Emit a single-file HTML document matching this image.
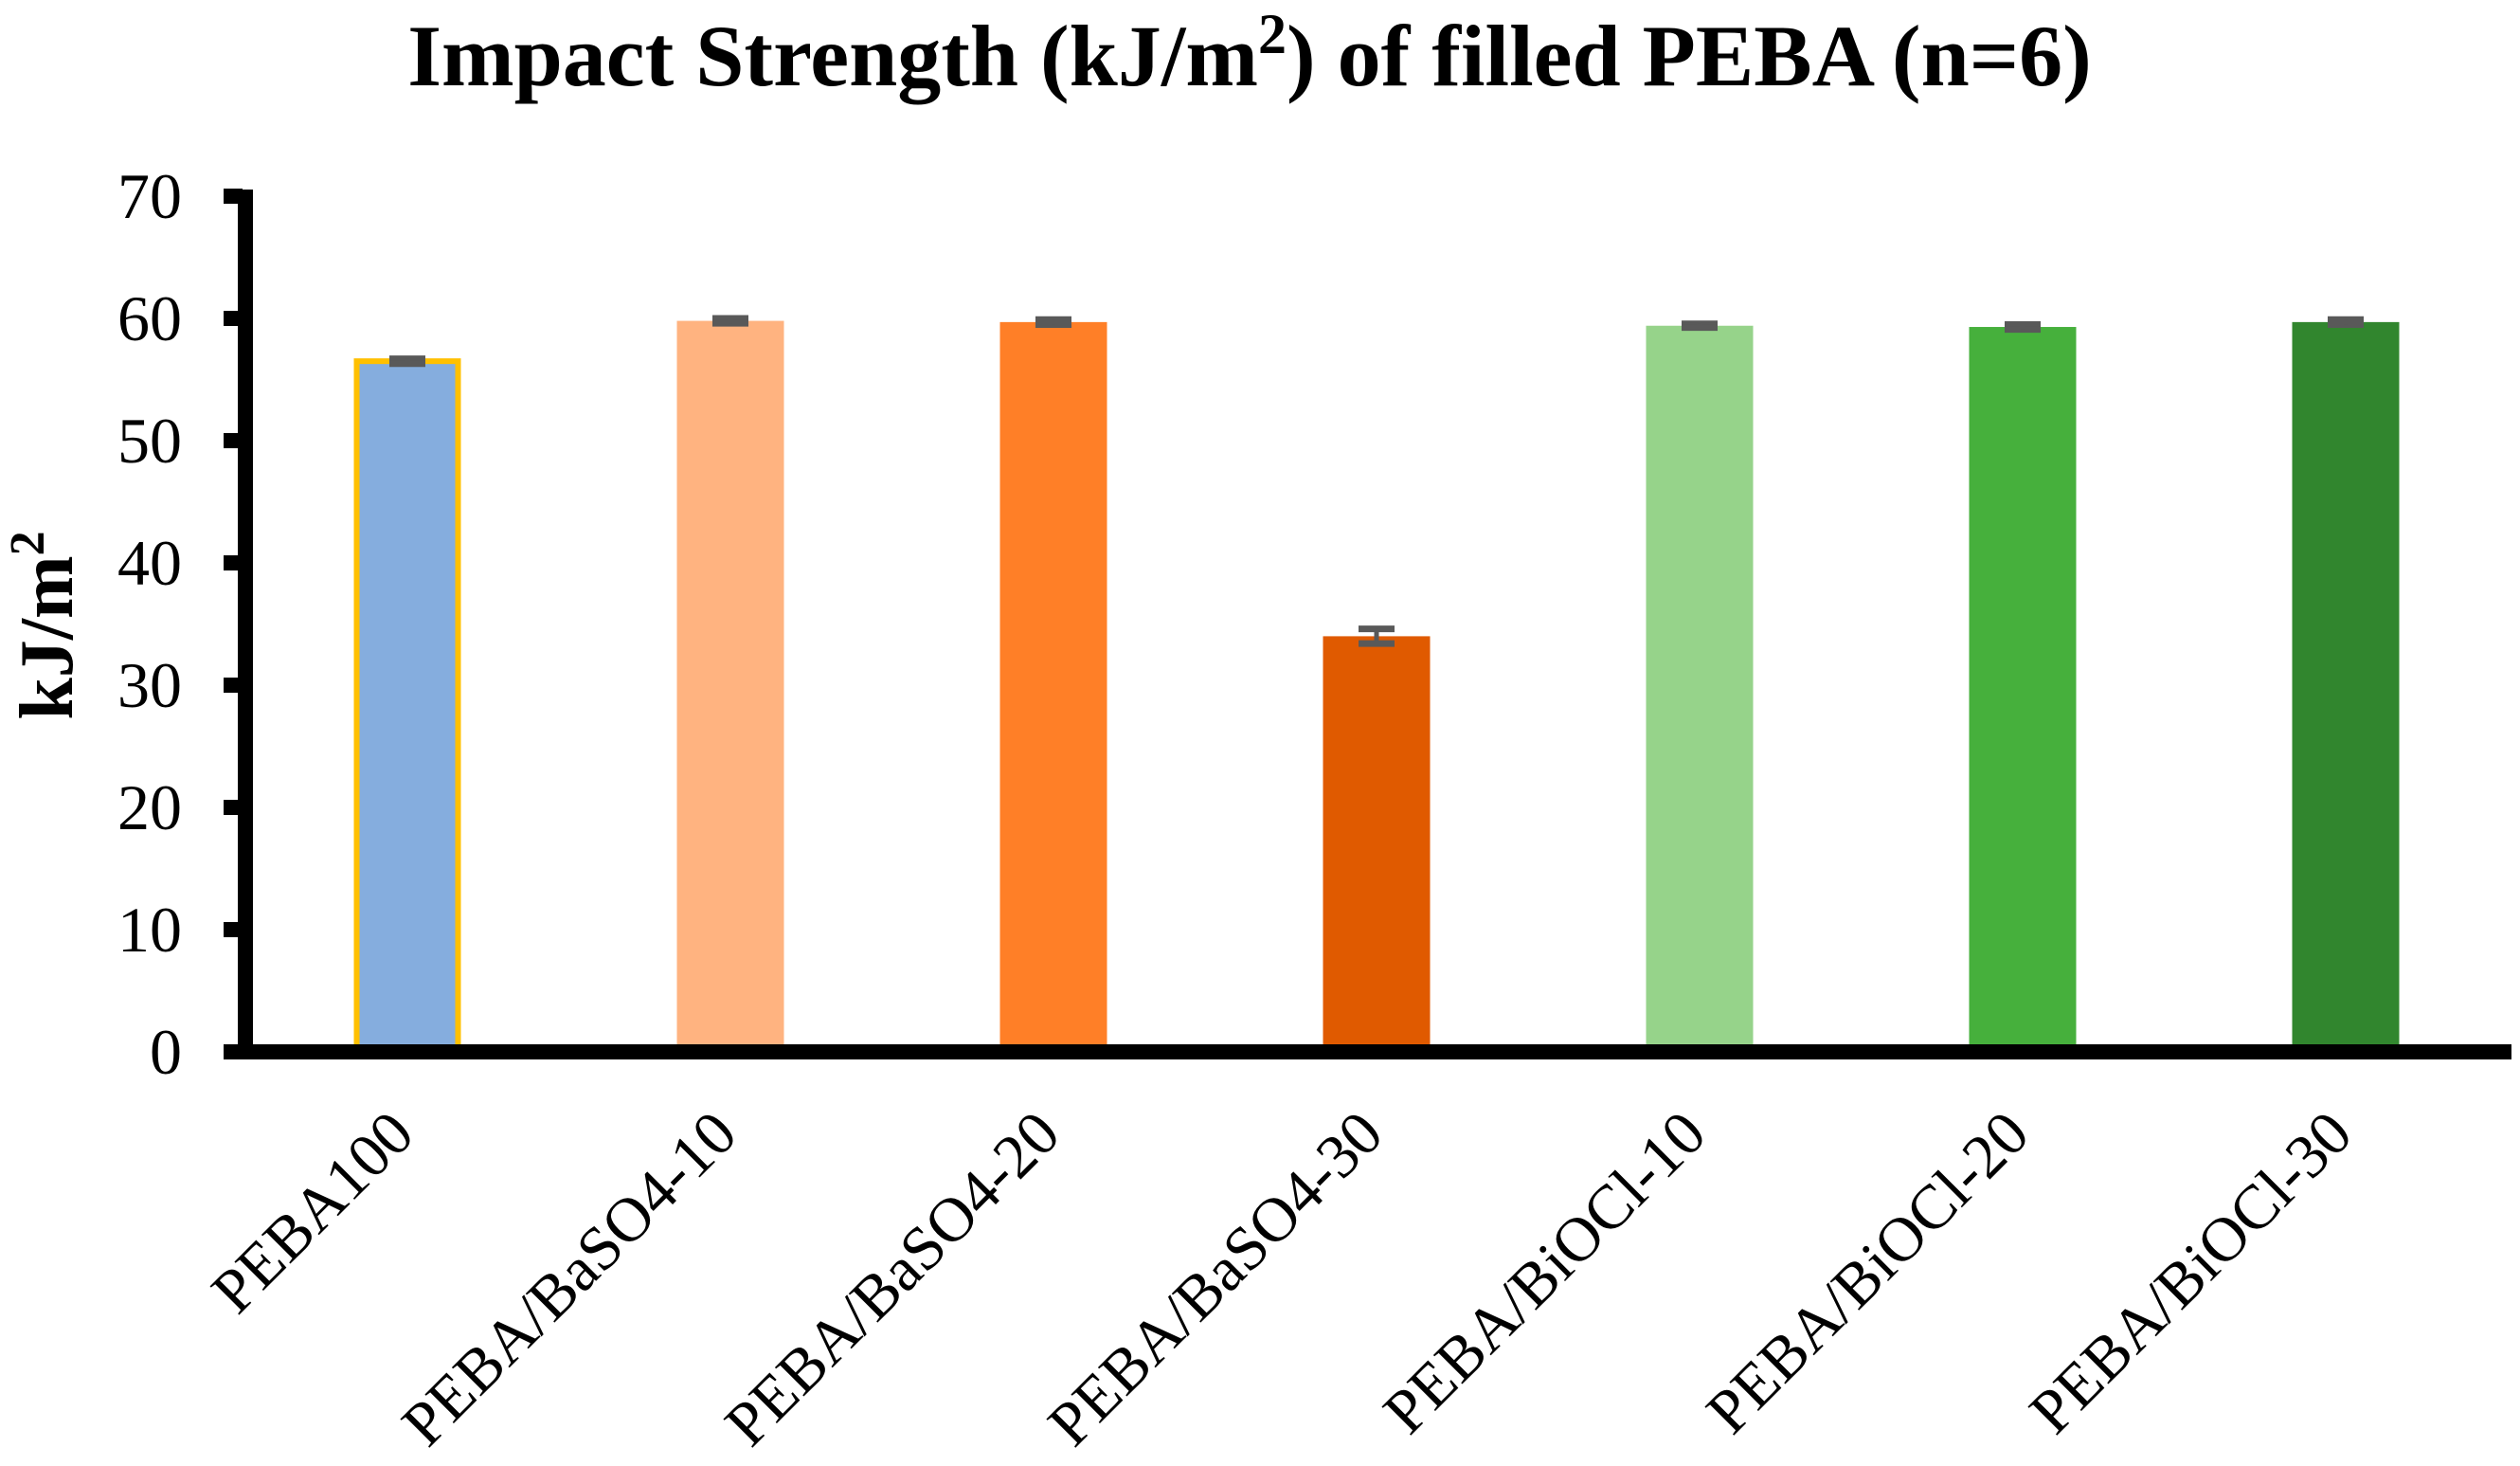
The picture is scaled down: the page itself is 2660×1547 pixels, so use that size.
<!DOCTYPE html>
<html><head><meta charset="utf-8"><style>
html,body{margin:0;padding:0;background:#fff;}
svg{display:block;}
text{font-family:"Liberation Serif","Times New Roman",serif;}
</style></head><body>
<svg id="chart" width="2660" height="1547" viewBox="0 0 2660 1547" xmlns="http://www.w3.org/2000/svg">
<text x="1319" y="90" text-anchor="middle" font-size="92" font-weight="bold">Impact Strength (kJ/m<tspan font-size="60" dy="-34">2</tspan><tspan dy="34">) of filled PEBA (n=6)</tspan></text>
<text transform="translate(76,660) rotate(-90)" text-anchor="middle" font-size="80" font-weight="bold">kJ/m<tspan font-size="52" dy="-30">2</tspan></text>
<g id="bars"></g>
<g id="axes"></g>
</svg>
<script>
const categories=["PEBA100","PEBA/BaSO4-10","PEBA/BaSO4-20","PEBA/BaSO4-30","PEBA/BiOCl-10","PEBA/BiOCl-20","PEBA/BiOCl-30"];
const values=[56.5,59.8,59.7,34.0,59.4,59.3,59.7];
const errors=[0.2,0.2,0.2,0.6,0.15,0.2,0.2];
const colors=["#85ADDE","#FFB380","#FF7F27","#E05A00","#96D38A","#46B03C","#31862E"];
const yTicks=[0,10,20,30,40,50,60,70];
const NS="http://www.w3.org/2000/svg";
const y0=1110, perUnit=(1110-207)/70;
const yScale=v=>y0-v*perUnit;
const x0=430, step=341;
const xScale=i=>x0+i*step;
const bw=113;
function mk(tag,attrs,parent){const e=document.createElementNS(NS,tag);for(const k in attrs)e.setAttribute(k,attrs[k]);parent.appendChild(e);return e;}
const bars=document.getElementById('bars'), axes=document.getElementById('axes');
categories.forEach((c,i)=>{
  const cx=xScale(i), top=yScale(values[i]);
  const r=mk('rect',{x:cx-bw/2,y:top,width:bw,height:y0-top,fill:colors[i]},bars);
  
  
  if(i===0){r.setAttribute('stroke','#FFC000');r.setAttribute('stroke-width','6');r.setAttribute('x',cx-bw/2+3);r.setAttribute('width',bw-6);}
  const g=mk('g',{stroke:'#595959','stroke-width':7},bars);
  
  
  const yh=yScale(values[i]+errors[i]), yl=yScale(values[i]-errors[i]);
  mk('line',{x1:cx-19,x2:cx+19,y1:yh,y2:yh},g);
  mk('line',{x1:cx-19,x2:cx+19,y1:yl,y2:yl},g);
  mk('line',{x1:cx,x2:cx,y1:yh,y2:yl,'stroke-width':5},g);
  const t=mk('text',{transform:`translate(${cx+10},1200) rotate(-45)`,'text-anchor':'end','font-size':66},axes);
  t.textContent=c;
  
  
});
const ya=mk('rect',{x:251,y:200,width:16,height:918,fill:'#000'},axes);


const xa=mk('rect',{x:251,y:1102,width:2400,height:16,fill:'#000'},axes);


yTicks.forEach(v=>{
  const y=yScale(v);
  const tk=mk('rect',{x:236,y:y-8,width:20,height:16,fill:'#000'},axes);
  
  
  const t=mk('text',{x:192,y:y+23,'text-anchor':'end','font-size':68},axes);
  t.textContent=v;
  
  
});
</script>
</body></html>
